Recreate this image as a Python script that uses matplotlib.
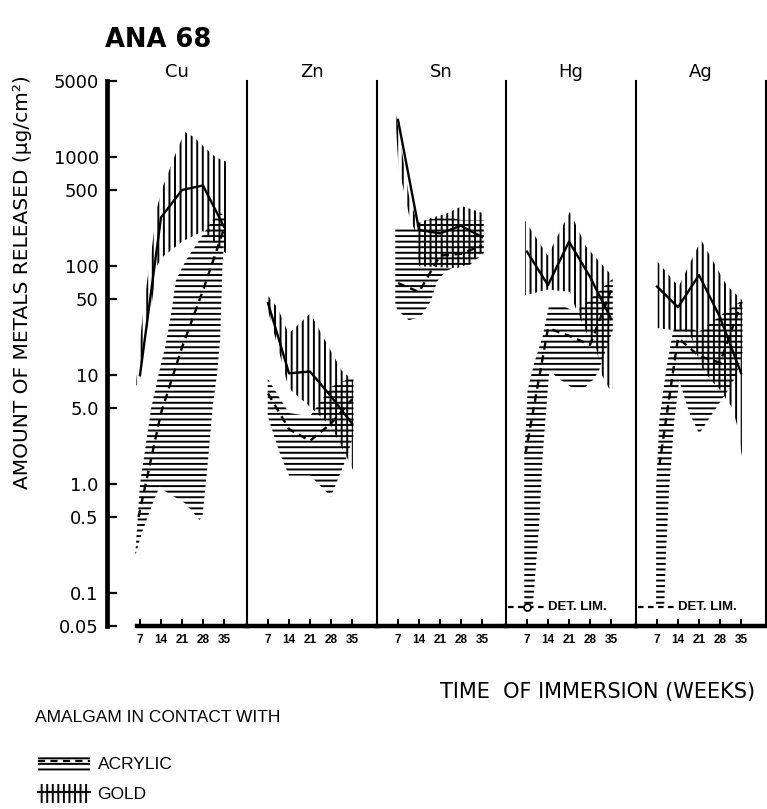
import matplotlib
matplotlib.use("Agg")
import matplotlib.pyplot as plt
from matplotlib.lines import Line2D
from matplotlib.patches import Patch
from matplotlib.ticker import NullLocator

plt.rcParams["font.family"] = ["DejaVu Sans"]
plt.rcParams["hatch.linewidth"] = 1.4

METALS = ["Cu", "Zn", "Sn", "Hg", "Ag"]
WEEKS = [7, 14, 21, 28, 35]
Y_TICKS = [0.05, 0.1, 0.5, 1, 5, 10, 50, 100, 500, 1000, 5000]
Y_TICK_LABELS = ["0.05", "0.1", "0.5", "1.0", "5.0", "10", "50", "100", "500", "1000", "5000"]
DET_LIM = 0.075
DET_SPAN = [0.7, 13.3]

# mean curves (solid = gold, dashed = acrylic), ug/cm2
GOLD_CU = [10, 280, 500, 550, 230]
GOLD_ZN = [46, 10.4, 10.8, 6.4, 3.6]
GOLD_SN = [2200, 215, 200, 235, 185]
GOLD_HG = [136, 67, 168, 80, 33]
GOLD_AG = [65, 42, 83, 34, 10.5]

ACR_CU_WK = [6.5, 14, 21, 28, 35]
ACR_CU = [0.5, 4.5, 18, 60, 220]
ACR_ZN_WK = [7, 14, 21, 28, 35]
ACR_ZN = [6.8, 3.2, 2.5, 3.6, 6.0]
ACR_SN_WK = [7, 14, 21, 28, 35]
ACR_SN = [70, 58, 125, 130, 155]
ACR_HG_WK = [6.5, 14, 21, 28, 35]
ACR_HG = [1.9, 27, 23, 19, 60]
ACR_AG_WK = [7.8, 14, 21, 28, 35]
ACR_AG = [1.5, 22, 15, 13, 45]

# ranges (hatched envelopes): upper and lower edges, each as weeks/values
GOLD_CU_UP_WK = [5.8, 7, 8.7, 10.9, 12.6, 14.6, 19.8, 22, 24.8, 28.3, 32, 35.7]
GOLD_CU_UP = [9, 21, 54, 141, 342, 536, 1250, 1700, 1540, 1250, 1010, 908]
GOLD_CU_LO_WK = [5.8, 7, 8.7, 10.9, 12.6, 14.6, 21, 28, 35.7]
GOLD_CU_LO = [8, 9, 22, 45, 100, 122, 168, 210, 130]

ACR_CU_UP_WK = [5.4, 7, 10.8, 13.3, 15.7, 17.4, 19, 22.4, 26.8, 31.2, 34, 35.5]
ACR_CU_UP = [0.22, 1.0, 5.1, 10.4, 20, 37, 75, 114, 174, 266, 306, 280]
ACR_CU_LO_WK = [5.4, 7.5, 10.8, 13.5, 15.7, 22, 26.8, 27.8, 28.9, 30, 31.2, 32.7, 33.7, 34.5, 35.5]
ACR_CU_LO = [0.22, 0.35, 0.62, 0.95, 0.85, 0.67, 0.47, 0.5, 1.0, 2.1, 5.1, 10.4, 21, 100, 280]

GOLD_ZN_UP_WK = [6.9, 10.3, 13.9, 21.1, 26.4, 31.6, 35.3]
GOLD_ZN_UP = [54, 41, 24, 37, 20, 11, 9]
GOLD_ZN_LO_WK = [6.9, 10.3, 13.9, 21.1, 28, 33.6, 35.3]
GOLD_ZN_LO = [40, 18, 7.6, 5.1, 3.4, 1.7, 1.35]

ACR_ZN_UP_WK = [6.9, 14, 21, 28, 35.5]
ACR_ZN_UP = [9.3, 4.5, 4.2, 7.8, 9.7]
ACR_ZN_LO_WK = [6.9, 11, 14, 21, 28, 33, 35.5]
ACR_ZN_LO = [4.2, 1.9, 1.2, 1.2, 0.77, 1.7, 2.8]

GOLD_SN_UP_WK = [6.3, 8.9, 10.6, 13.2, 13.9, 17.8, 23.3, 28.3, 35.6]
GOLD_SN_UP = [2500, 900, 450, 260, 250, 275, 305, 356, 305]
GOLD_SN_LO_WK = [6.3, 7.2, 8.9, 10.6, 13.2, 13.9, 26.7, 31, 35.6]
GOLD_SN_LO = [1900, 800, 500, 300, 190, 100, 96, 106, 141]

ACR_SN_UP_WK = [6.1, 13, 14, 20, 25.6, 28, 35.6]
ACR_SN_UP = [226, 230, 256, 275, 275, 265, 265]
ACR_SN_LO_WK = [6.1, 6.7, 10.6, 14.4, 17.8, 20, 22.8, 26, 31, 35.6]
ACR_SN_LO = [45, 40, 32, 34, 47, 72, 89, 99, 103, 131]

GOLD_HG_UP_WK = [6.4, 13.9, 21.3, 26.7, 35.6]
GOLD_HG_UP = [261, 125, 316, 151, 80]
GOLD_HG_LO_WK = [6.4, 13.9, 21.3, 23.1, 26.7, 30.2, 32, 34.4, 35.6]
GOLD_HG_LO = [54, 61, 58, 42, 25, 17, 10, 7.5, 7.3]

ACR_HG_UP_WK = [6.1, 6.7, 7.2, 9.4, 12.2, 14.4, 18.3, 23.3, 35.6]
ACR_HG_UP = [1.9, 3.7, 7.3, 12.9, 22.5, 44, 44, 38, 77]
ACR_HG_LO_WK = [6.1, 8.9, 11.1, 12.2, 13.9, 14.4, 18.3, 22.2, 26, 28.9, 31, 33.3, 35.6]
ACR_HG_LO = [0.075, 0.075, 0.44, 1.8, 7.3, 11, 9, 7.6, 7.6, 9, 11, 17, 26]

GOLD_AG_UP_WK = [7.2, 14.2, 21.7, 30.2, 35.3]
GOLD_AG_UP = [110, 65, 174, 67, 49]
GOLD_AG_LO_WK = [7.2, 17.8, 21.7, 25, 28.7, 30.2, 32, 33.8, 35.3]
GOLD_AG_LO = [27, 25, 12, 9, 7, 5.9, 5.1, 3.4, 1.8]

ACR_AG_UP_WK = [6.7, 7.8, 10, 12.2, 12.8, 17, 21, 28, 35.5]
ACR_AG_UP = [0.95, 3.9, 11, 24, 28, 28, 25, 35, 49]
ACR_AG_LO_WK = [6.7, 9.4, 10, 11.1, 12.8, 13.9, 14.4, 17.8, 21.1, 25.6, 30, 33.3, 35.5]
ACR_AG_LO = [0.075, 0.075, 0.23, 0.95, 3.9, 6.8, 9.0, 4.5, 2.9, 4.5, 6.8, 9.7, 16]

PANELS = {
    "Cu": dict(gold=GOLD_CU, acr=(ACR_CU_WK, ACR_CU),
               gold_band=(GOLD_CU_UP_WK, GOLD_CU_UP, GOLD_CU_LO_WK, GOLD_CU_LO),
               acr_band=(ACR_CU_UP_WK, ACR_CU_UP, ACR_CU_LO_WK, ACR_CU_LO)),
    "Zn": dict(gold=GOLD_ZN, acr=(ACR_ZN_WK, ACR_ZN),
               gold_band=(GOLD_ZN_UP_WK, GOLD_ZN_UP, GOLD_ZN_LO_WK, GOLD_ZN_LO),
               acr_band=(ACR_ZN_UP_WK, ACR_ZN_UP, ACR_ZN_LO_WK, ACR_ZN_LO)),
    "Sn": dict(gold=GOLD_SN, acr=(ACR_SN_WK, ACR_SN),
               gold_band=(GOLD_SN_UP_WK, GOLD_SN_UP, GOLD_SN_LO_WK, GOLD_SN_LO),
               acr_band=(ACR_SN_UP_WK, ACR_SN_UP, ACR_SN_LO_WK, ACR_SN_LO)),
    "Hg": dict(gold=GOLD_HG, acr=(ACR_HG_WK, ACR_HG),
               gold_band=(GOLD_HG_UP_WK, GOLD_HG_UP, GOLD_HG_LO_WK, GOLD_HG_LO),
               acr_band=(ACR_HG_UP_WK, ACR_HG_UP, ACR_HG_LO_WK, ACR_HG_LO)),
    "Ag": dict(gold=GOLD_AG, acr=(ACR_AG_WK, ACR_AG),
               gold_band=(GOLD_AG_UP_WK, GOLD_AG_UP, GOLD_AG_LO_WK, GOLD_AG_LO),
               acr_band=(ACR_AG_UP_WK, ACR_AG_UP, ACR_AG_LO_WK, ACR_AG_LO)),
}
DET_PANELS = ["Hg", "Ag"]

W, H = 767, 809
YTOP, YBOT = 81, 626
# panel left edge and width in pixels
BOXES = {"Cu": (107, 140), "Zn": (247, 130), "Sn": (377, 129), "Hg": (506, 130), "Ag": (636, 130)}

ARIAL = ["Liberation Sans", "DejaVu Sans"]
DASH = (0, (3.2, 2.4))


def band(ax, edges, hatch):
    up_wk, up, lo_wk, lo = edges
    ax.fill(list(up_wk) + list(lo_wk)[::-1], list(up) + list(lo)[::-1],
            facecolor="none", edgecolor="black", hatch=hatch, lw=0, zorder=1)


fig = plt.figure(figsize=(W / 100, H / 100), dpi=100)

for i, m in enumerate(METALS):
    x0, w = BOXES[m]
    ax = fig.add_axes([x0 / W, 1 - YBOT / H, w / W, (YBOT - YTOP) / H])
    ax.set_yscale("log")
    ax.set_ylim(0.05, 5000)
    if i == 0:
        ax.set_xlim(-4, (w - 12) / 3)
    else:
        ax.set_xlim(0, w / 3)

    d = PANELS[m]
    band(ax, d["acr_band"], "---")
    band(ax, d["gold_band"], "|||")
    ax.plot(WEEKS, d["gold"], color="black", lw=1.7, zorder=3)
    ax.plot(d["acr"][0], d["acr"][1], color="black", lw=1.7, ls=DASH, zorder=3)

    if m in DET_PANELS:
        ax.plot(DET_SPAN, [DET_LIM, DET_LIM], color="black", lw=1.6, ls=(0, (2.5, 2)), zorder=3)
        if m == "Hg":
            ax.plot([7], [DET_LIM], marker="o", ms=5, mfc="white", mec="black", mew=1.3, zorder=4)
        ax.text(DET_SPAN[1] + 0.6, DET_LIM, "DET. LIM.", fontsize=9.5, weight="bold",
                family=ARIAL, va="center", ha="left")

    ax.spines["top"].set_visible(False)
    ax.spines["right"].set_visible(m == METALS[-1])
    ax.spines["right"].set_linewidth(1.5)
    ax.spines["bottom"].set_linewidth(3.2)
    if i == 0:
        ax.spines["left"].set_linewidth(3.4)
        ax.spines["bottom"].set_bounds(6, (w - 12) / 3)
        ax.set_yticks(Y_TICKS)
        ax.set_yticklabels(Y_TICK_LABELS)
        ax.yaxis.set_minor_locator(NullLocator())
        ax.tick_params(axis="y", direction="in", length=7, width=1.6, pad=6, labelsize=13)
    else:
        ax.spines["left"].set_linewidth(1.5)
        ax.yaxis.set_minor_locator(NullLocator())
        ax.set_yticks([])

    ax.set_xticks(WEEKS)
    ax.set_xticklabels([str(wk) for wk in WEEKS], family=ARIAL, weight="bold", fontsize=8.5)
    ax.tick_params(axis="x", direction="in", length=5, width=1.4, pad=6)
    ax.set_title(m, fontsize=13, pad=3)

fig.text(105 / W, 1 - 40 / H, "ANA 68", fontsize=18.5, weight="bold", va="center", ha="left")
fig.text(23 / W, 1 - 282 / H, "AMOUNT OF METALS RELEASED (\u00b5g/cm\u00b2)", rotation=90,
         fontsize=14.5, va="center", ha="center")
fig.text(440 / W, 1 - 692 / H, "TIME  OF IMMERSION (WEEKS)", fontsize=15,
         va="center", ha="left")
fig.text(35 / W, 1 - 717 / H, "AMALGAM IN CONTACT WITH", fontsize=12.5,
         family=ARIAL, va="center", ha="left")

handles = [
    (Patch(facecolor="none", edgecolor="black", hatch="---", lw=0),
     Line2D([], [], color="black", lw=1.6, ls=DASH)),
    (Patch(facecolor="none", edgecolor="black", hatch="|||", lw=0),
     Line2D([], [], color="black", lw=1.6)),
]
fig.legend(handles, ["ACRYLIC", "GOLD"], loc="upper left",
           bbox_to_anchor=(29 / W, 1 - 745 / H), frameon=False, borderpad=0,
           handlelength=3.0, handleheight=1.25, handletextpad=0.45, labelspacing=0.7,
           prop={"family": ARIAL, "size": 12.5})

fig.savefig("out.png", dpi=100)
